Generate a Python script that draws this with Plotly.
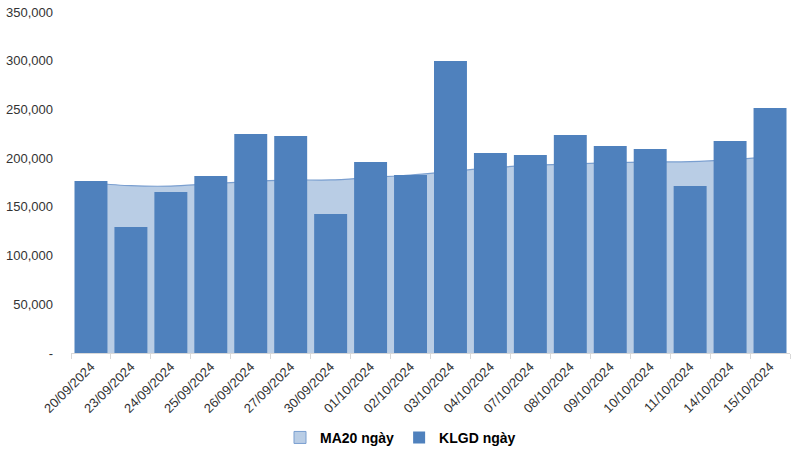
import plotly.graph_objects as go

dates = ["20/09/2024", "23/09/2024", "24/09/2024", "25/09/2024", "26/09/2024", "27/09/2024",
         "30/09/2024", "01/10/2024", "02/10/2024", "03/10/2024", "04/10/2024", "07/10/2024",
         "08/10/2024", "09/10/2024", "10/10/2024", "11/10/2024", "14/10/2024", "15/10/2024"]
klgd = [176600, 129400, 165300, 181700, 224800, 222800, 142700, 196000, 182700,
        299800, 205300, 203300, 223800, 212500, 209400, 171500, 217700, 251500]
ma20 = [174500, 171700, 171300, 173700, 175800, 177600, 177600, 180200, 182700,
        186300, 190000, 192500, 194000, 195300, 196100, 196400, 198200, 201200]

y_ticks = [0, 50000, 100000, 150000, 200000, 250000, 300000, 350000]
y_labels = ["-", "50,000", "100,000", "150,000", "200,000", "250,000", "300,000", "350,000"]

font_family = "Liberation Sans, Arial, sans-serif"
MA_COLOR = "#B9CDE5"
BAR_COLOR = "#4F81BD"

fig = go.Figure()
fig.add_trace(go.Scatter(
    x=dates, y=ma20, name="MA20 ngày", mode="lines", showlegend=False,
    line=dict(color="#7A9FD0", width=1.2, shape="spline", smoothing=0.8),
    fill="tozeroy", fillcolor=MA_COLOR, xaxis="x", yaxis="y",
))
# legend swatch for the MA area (square, like the reference)
fig.add_trace(go.Bar(
    x=[None], y=[None], name="MA20 ngày",
    marker=dict(color=MA_COLOR, line=dict(color="#7A9FD0", width=1)),
    xaxis="x2", yaxis="y2",
))
fig.add_trace(go.Bar(
    x=dates, y=klgd, name="KLGD ngày", marker=dict(color=BAR_COLOR, line=dict(width=0)),
    xaxis="x2", yaxis="y2",
))

rng = [0, 350000]
xr = [-0.5, len(dates) - 0.5]
fig.update_layout(
    width=801, height=450,
    margin=dict(l=71, r=11, t=12, b=97),
    paper_bgcolor="white", plot_bgcolor="white",
    font=dict(family=font_family, size=13, color="#333333"),
    bargap=0.175,
    showlegend=True,
    legend=dict(orientation="h", x=0.5, xanchor="center", xref="container",
                y=0.027, yanchor="middle", yref="container",
                font=dict(size=14, color="#000000", family=font_family, weight="bold"),
                itemwidth=30, traceorder="normal"),
    xaxis=dict(type="category", categoryorder="array", categoryarray=dates, range=xr,
               tickangle=-45, tickson="boundaries", ticks="outside", ticklen=5,
               tickcolor="#D9D9D9", showline=True, linecolor="#D9D9D9", linewidth=1,
               showgrid=False, automargin=False, tickfont=dict(size=13, color="#333333")),
    yaxis=dict(range=rng, tickvals=y_ticks, ticktext=y_labels, showgrid=False,
               zeroline=False, showline=False, ticks="", ticklabelstandoff=17,
               automargin=False, tickfont=dict(size=13, color="#333333")),
    xaxis2=dict(type="category", categoryorder="array", categoryarray=dates, range=xr,
                overlaying="x", visible=False),
    yaxis2=dict(range=rng, overlaying="y", visible=False),
)

fig.write_html("out.html")
